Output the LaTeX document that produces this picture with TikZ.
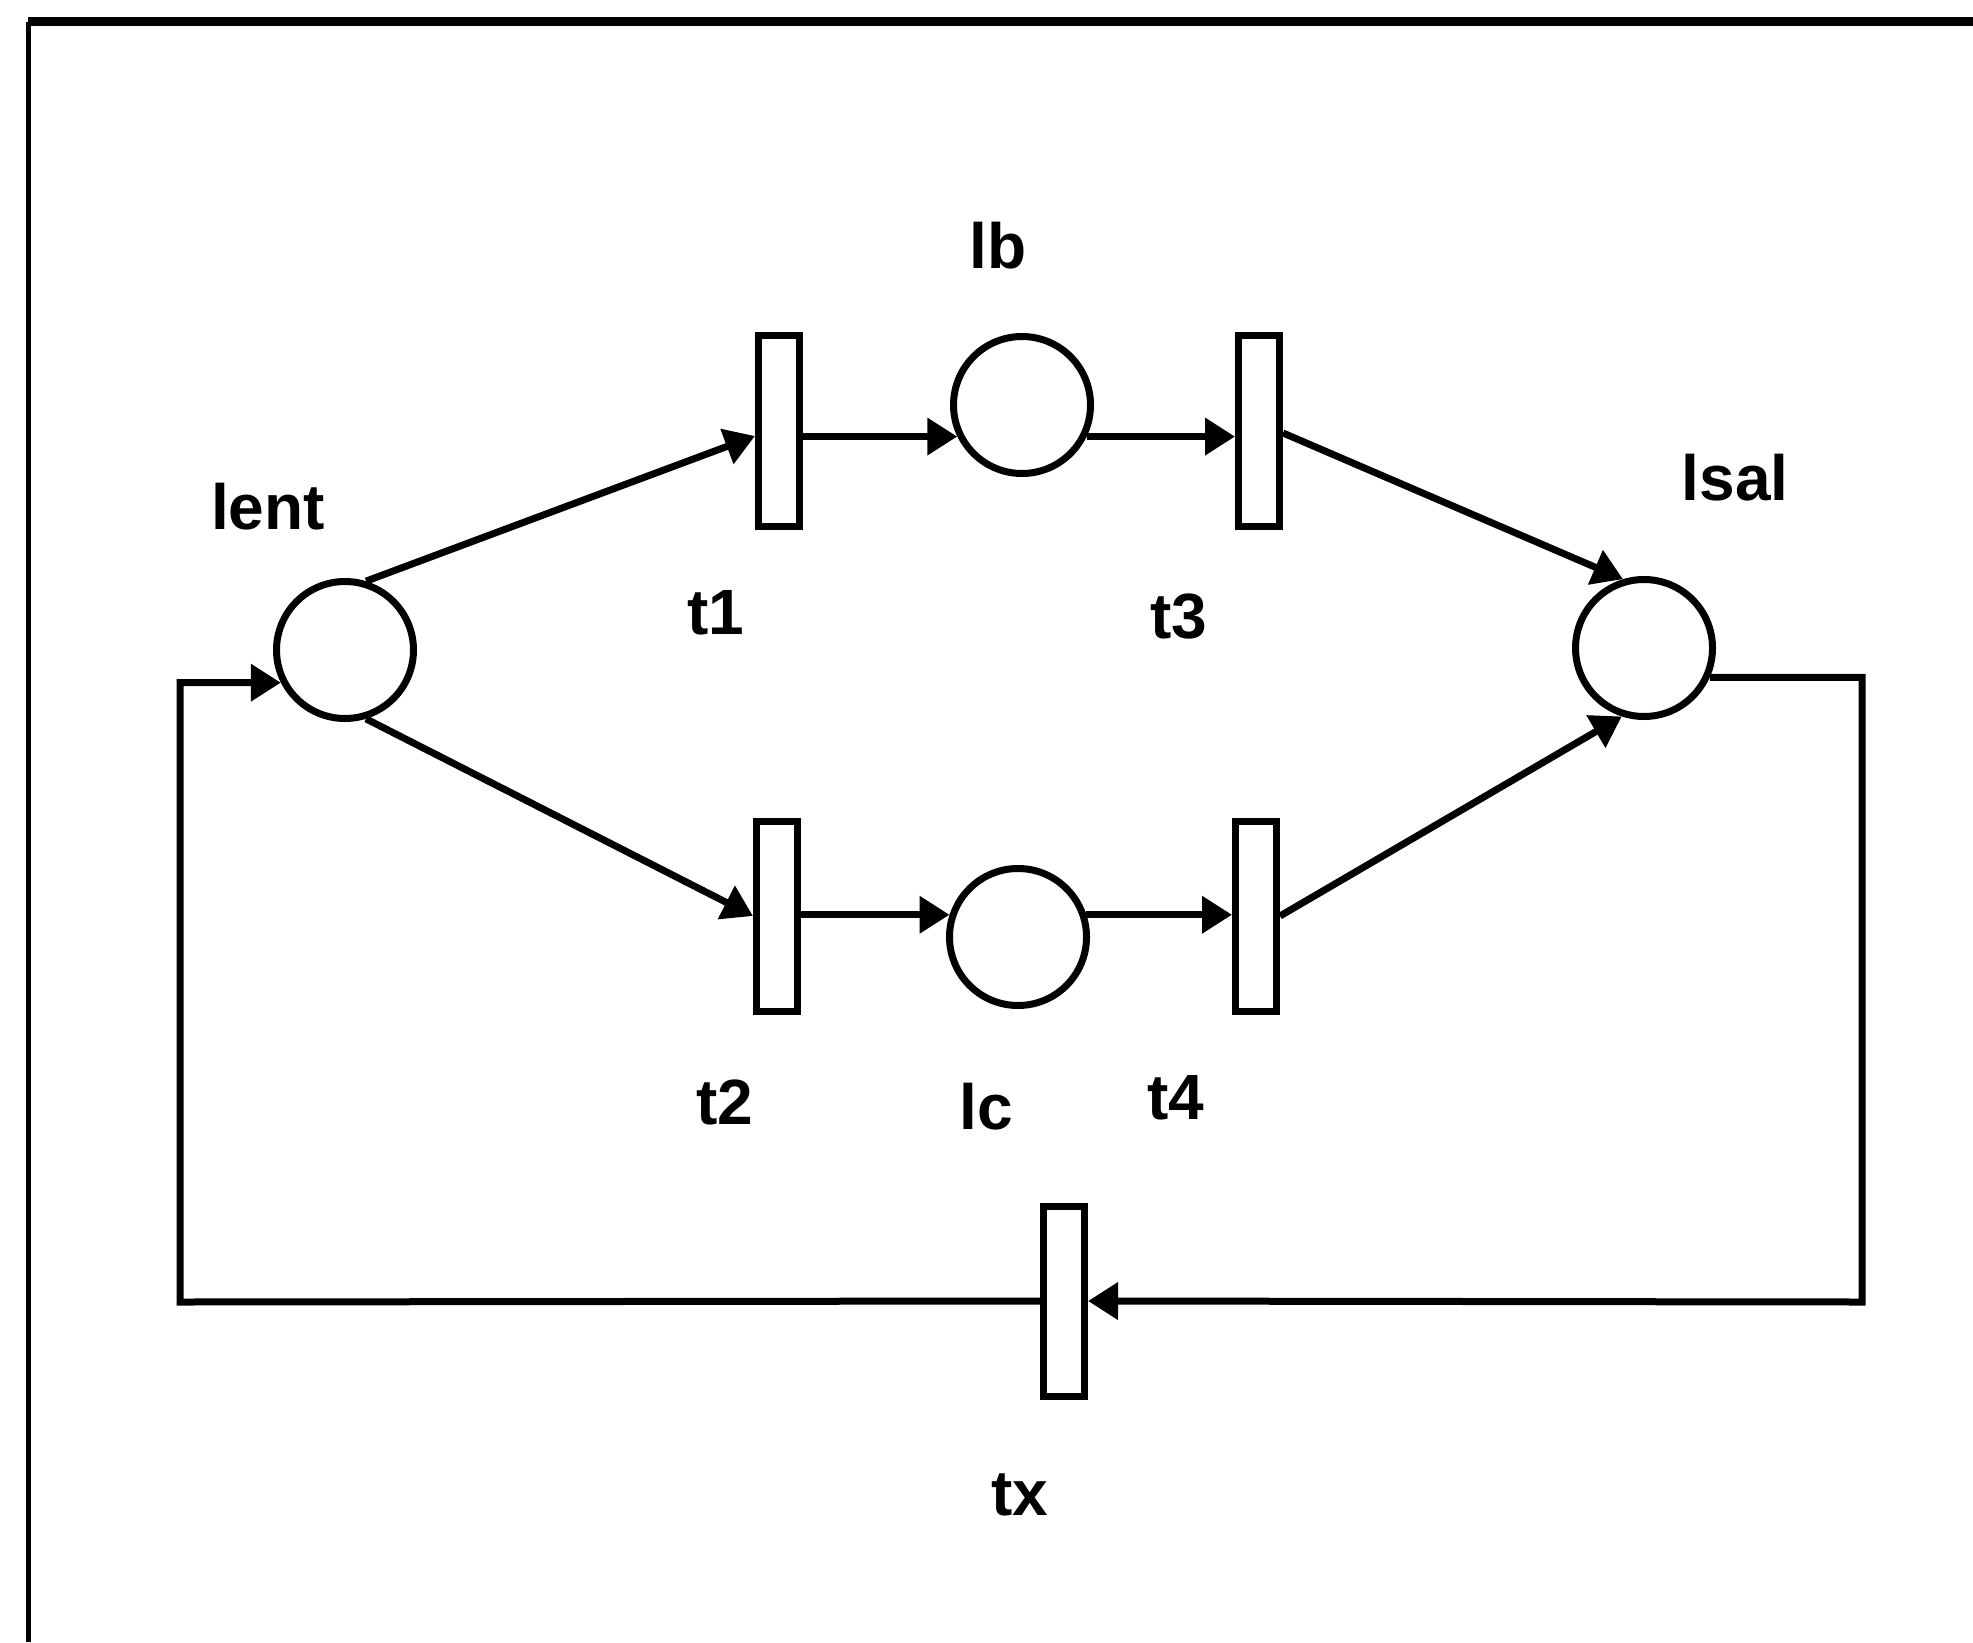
\documentclass[tikz,border=0pt]{standalone}
\usepackage{fontspec}
\setmainfont{Liberation Sans}
\usetikzlibrary{arrows.meta}
\begin{document}
\begin{tikzpicture}[x=0.5pt,y=-0.5pt,
  place/.style={circle,draw,line width=3.5pt,minimum size=68.5pt,inner sep=0pt},
  trans/.style={rectangle,draw,line width=3.5pt,minimum width=20.5pt,minimum height=95pt,inner sep=0pt},
  lbl/.style={font=\fontsize{32}{36}\selectfont\bfseries,inner sep=0pt},
  arc/.style={line width=3.5pt,-{Triangle[length=15pt,width=18pt]}},
  frame/.style={line width=2.5pt}]
\useasboundingbox (0,0) rectangle (1973,1642);
% outer frame (top and left edges)
\draw[frame,line width=4.5pt] (28,22) -- (1973,22);
\draw[frame] (28,22) -- (28,1642);

% places
\node[place] (lent) at (345,650) {};
\node[place] (lb)   at (1022,405) {};
\node[place] (lc)   at (1018,937) {};
\node[place] (lsal) at (1644,648) {};

% transitions
\node[trans] (t1) at (779,431) {};
\node[trans] (t3) at (1259,431) {};
\node[trans] (t2) at (777,916) {};
\node[trans] (t4) at (1256,916) {};
\node[trans] (tx) at (1064,1301) {};

% labels
\node[lbl] (llent) at (268,507) {lent};
\node[lbl] (llb)   at (998,246) {lb};
\node[lbl] (llsal) at (1735,478) {lsal};
\node[lbl] (lt1)   at (716,613) {t1};
\node[lbl] (lt3)   at (1179,617) {t3};
\node[lbl] (lt2)   at (725,1102) {t2};
\node[lbl] (llc)   at (986,1107) {lc};
\node[lbl] (lt4)   at (1176,1098) {t4};
\node[lbl] (ltx)   at (1020,1495) {tx};

% return path corners
\coordinate (rturn) at (1862,1302);
\coordinate (lturn) at (180,1302);

% arcs
\draw[arc] (lent.73) -- ([yshift=-2.5pt]t1.west);
\draw[arc] (lent.-73) -- (t2.west);
\draw[arc] (t1.east |- lb.206) -- (lb.206);
\draw[arc] (lb.334) -- (lb.334 -| t3.west);
\draw[arc] ([yshift=-1pt]t3.east) -- (lsal.107);
\draw[arc] (t2.east |- lc.162) -- (lc.162);
\draw[arc] (lc.18) -- (lc.18 -| t4.west);
\draw[arc] (t4.east) -- (lsal.252);
\draw[arc] (lsal.-24) -| (rturn) -- (tx.east);
\draw[arc] (tx.west) -- (lturn) |- (lent.207);
\end{tikzpicture}
\end{document}
